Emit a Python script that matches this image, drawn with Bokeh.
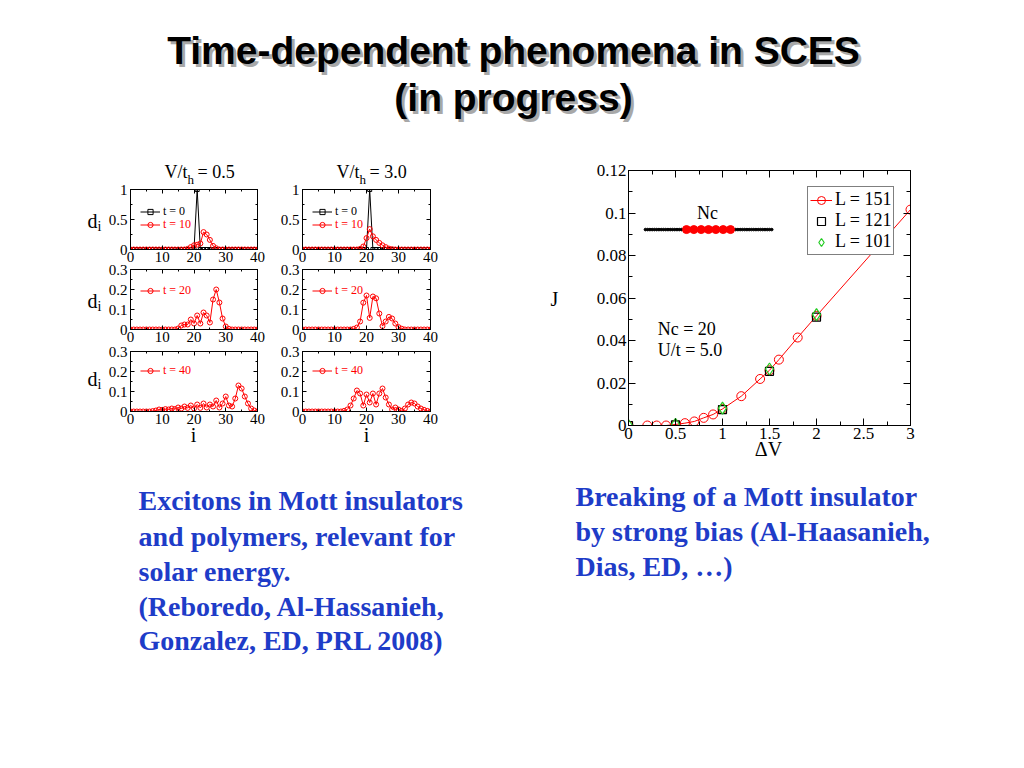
from bokeh.plotting import figure
from bokeh.models import (Range1d, LinearAxis, FixedTicker, Label, Legend, LegendItem,
                          ColumnDataSource, CustomJSTickFormatter)
from bokeh.layouts import row, column
from bokeh.embed import file_html
from bokeh.resources import INLINE
from bokeh.core.properties import value

SERIF = "Liberation Serif"
SANS = "Liberation Sans"
BLUE = "#1e3cc8"
RED = "#ff0000"
GREEN = "#22cc22"

# ---------------- data: exciton panels (site index i = 0..40) ----------------
site = list(range(41))
x_ticks = [0, 10, 20, 30, 40]
x_minor = [5, 15, 25, 35]
top_yticks = [0, 0.5, 1]
top_yminor = [0.25, 0.75]
low_yticks = [0, 0.1, 0.2, 0.3]
low_yminor = [0.05, 0.15, 0.25]

d_t0 = [0, 0, 0, 0, 0, 0, 0, 0, 0, 0,
        0, 0, 0, 0, 0, 0, 0, 0, 0, 0,
        0, 1, 0, 0, 0, 0, 0, 0, 0, 0,
        0, 0, 0, 0, 0, 0, 0, 0, 0, 0, 0]
v05_t10 = [0, 0, 0, 0, 0, 0, 0, 0, 0, 0,
           0, 0, 0, 0, 0, 0, 0, 0, 0.01, 0.04,
           0.07, 0.08, 0.10, 0.29, 0.25, 0.16, 0.06, 0.02, 0, 0,
           0, 0, 0, 0, 0, 0, 0, 0, 0, 0, 0]
v30_t10 = [0, 0, 0, 0, 0, 0, 0, 0, 0, 0,
           0, 0, 0, 0, 0, 0, 0, 0, 0.01, 0.05,
           0.19, 0.34, 0.22, 0.16, 0.11, 0.07, 0.04, 0.015, 0.005, 0,
           0, 0, 0, 0, 0, 0, 0, 0, 0, 0, 0]
v05_t20 = [0, 0, 0, 0, 0, 0, 0, 0, 0, 0,
           0, 0, 0, 0, 0, 0.005, 0.02, 0.025, 0.025, 0.05,
           0.03, 0.07, 0.03, 0.085, 0.07, 0.035, 0.15, 0.2, 0.135, 0.055,
           0.015, 0.003, 0, 0, 0, 0, 0, 0, 0, 0, 0]
v30_t20 = [0, 0, 0, 0, 0, 0, 0, 0, 0, 0,
           0, 0, 0, 0, 0, 0, 0.003, 0.01, 0.04, 0.134,
           0.17, 0.058, 0.165, 0.156, 0.08, 0.017, 0.04, 0.063, 0.055, 0.03,
           0.012, 0.004, 0, 0, 0, 0, 0, 0, 0, 0, 0]
v05_t40 = [0, 0, 0, 0, 0, 0, 0, 0.002, 0.005, 0.01,
           0.008, 0.012, 0.01, 0.015, 0.012, 0.02, 0.015, 0.025, 0.018, 0.03,
           0.015, 0.035, 0.018, 0.04, 0.02, 0.035, 0.025, 0.055, 0.02, 0.04,
           0.075, 0.03, 0.025, 0.065, 0.13, 0.115, 0.075, 0.04, 0.015, 0.005, 0]
v30_t40 = [0, 0, 0, 0, 0, 0, 0, 0, 0, 0,
           0, 0, 0, 0.003, 0.01, 0.03, 0.065, 0.105, 0.09, 0.03,
           0.085, 0.045, 0.09, 0.035, 0.09, 0.115, 0.07, 0.035, 0.01, 0.02,
           0.01, 0.003, 0.015, 0.035, 0.045, 0.04, 0.025, 0.015, 0.008, 0.003, 0]
panel_ratios = ["0.5", "3.0"]

# ---------------- data: current vs bias ----------------
dv_151 = [0, 0.2, 0.3, 0.4, 0.5, 0.6, 0.7, 0.8, 0.9, 1.0, 1.2, 1.4, 1.5, 1.6, 1.8, 2.0, 3.0]
j_151 = [0, 0, 0, 0, 0.0005, 0.0011, 0.0019, 0.0036, 0.0052, 0.0078, 0.0138, 0.0219,
         0.026, 0.031, 0.0414, 0.0516, 0.1016]
dv_small = [0, 0.5, 1.0, 1.5, 2.0]
j_121 = [0, 0.0003, 0.0075, 0.0255, 0.051]
j_101 = [0, 0.0006, 0.0082, 0.0266, 0.0522]
dv_ticks = [0, 0.5, 1, 1.5, 2, 2.5, 3]
dv_minor = [0.25, 0.75, 1.25, 1.75, 2.25, 2.75]
j_ticks = [0, 0.02, 0.04, 0.06, 0.08, 0.1, 0.12]
j_minor = [0.01, 0.03, 0.05, 0.07, 0.09, 0.11]
legend_labels = ["L = 151", "L = 121", "L = 101"]

# schematic chain of sites (Nc) drawn inside the J panel
chain_left = [0.18, 0.204, 0.228, 0.252, 0.276, 0.30, 0.324, 0.348, 0.372, 0.396,
              0.42, 0.444, 0.468, 0.492, 0.516, 0.54, 0.564, 0.588]
chain_mid = [0.617, 0.695, 0.773, 0.851, 0.929, 1.007, 1.085]
chain_right = [1.116, 1.14, 1.164, 1.188, 1.212, 1.236, 1.26, 1.284, 1.308, 1.332,
               1.356, 1.38, 1.404, 1.428, 1.452, 1.476, 1.5, 1.524]
chain_level = 0.0922

title_lines = ["Time-dependent phenomena in SCES", "(in progress)"]
left_text = ["Excitons in Mott insulators", "and polymers, relevant for", "solar energy.",
             "(Reboredo, Al-Hassanieh,", "Gonzalez, ED, PRL 2008)"]
right_text = ["Breaking of a Mott insulator", "by strong bias (Al-Haasanieh,", "Dias, ED, \u2026)"]

FMT = "return String(Math.round(tick*1000)/1000);"


def axis_style(ax, ticks, minor, show, size, tin, tmin, standoff):
    ax.ticker = FixedTicker(ticks=ticks, minor_ticks=minor)
    ax.formatter = CustomJSTickFormatter(code=FMT if show else "return '';")
    ax.axis_line_color = "black"
    ax.major_tick_in = tin
    ax.major_tick_out = 0
    ax.minor_tick_in = tmin
    ax.minor_tick_out = 0
    ax.major_tick_line_color = "black"
    ax.minor_tick_line_color = "black"
    ax.major_label_text_font = SERIF
    ax.major_label_text_font_size = size if show else "1px"
    ax.major_label_text_color = "black"
    ax.major_label_standoff = standoff


def lab(p, x, y, text, size, color="black", align="left"):
    p.add_layout(Label(x=x, y=y, text=text, text_font=SERIF, text_font_size=size,
                       text_color=color, text_align=align, text_baseline="middle"))


def small_panel(w, h, bl, br, bt, bb, ymax, yt, ym):
    p = figure(width=w, height=h, x_range=Range1d(0, 40), y_range=Range1d(0, ymax),
               output_backend="svg", toolbar_location=None,
               min_border_left=bl, min_border_right=br, min_border_top=bt, min_border_bottom=bb,
               background_fill_color=None, border_fill_color=None, outline_line_color="black")
    p.xgrid.visible = False
    p.ygrid.visible = False
    axis_style(p.xaxis[0], x_ticks, x_minor, True, "15px", 4, 2, 2)
    axis_style(p.yaxis[0], yt, ym, True, "15px", 4, 2, 3)
    ta = LinearAxis()
    axis_style(ta, x_ticks, x_minor, False, "15px", 4, 2, 0)
    p.add_layout(ta, "above")
    ra = LinearAxis()
    axis_style(ra, yt, ym, False, "15px", 4, 2, 0)
    p.add_layout(ra, "right")
    return p


def series(p, y, color, marker, size):
    src = ColumnDataSource(dict(i=site, d=y))
    l = p.line("i", "d", source=src, line_color=color, line_width=1)
    s = p.scatter("i", "d", source=src, marker=marker, size=size, line_color=color,
                  fill_color=None, line_width=1)
    return [l, s]


def small_legend(p, label, rends, color, loc):
    lg = Legend(items=[LegendItem(label=label, renderers=rends)], location=loc,
                border_line_color=None, background_fill_alpha=0, padding=0, spacing=0,
                margin=0, label_text_font=SERIF, label_text_font_size="12px",
                label_text_color=color, glyph_width=20, glyph_height=13, label_height=13,
                label_standoff=3)
    p.add_layout(lg)


# column A (V/t_h = 0.5) and column B (V/t_h = 3.0)
WA, BLA, BRA = 269, 122, 20
WB, BLB, BRB = 173, 25, 20
rows_geo = [(121, 39, 22), (96, 14, 22), (120, 14, 46)]

panels = []
for r, (h, bt, bb) in enumerate(rows_geo):
    ymax = 1 if r == 0 else 0.3
    yt = top_yticks if r == 0 else low_yticks
    ym = top_yminor if r == 0 else low_yminor
    pa = small_panel(WA, h, BLA, BRA, bt, bb, ymax, yt, ym)
    pb = small_panel(WB, h, BLB, BRB, bt, bb, ymax, yt, ym)
    panels.append((pa, pb))

tl, tr = panels[0]
for p, red in ((tl, v05_t10), (tr, v30_t10)):
    kb = series(p, d_t0, "black", "square", 4)
    kr = series(p, red, RED, "circle", 5)
    small_legend(p, "t = 0", kb, "black", (10, 30))
    small_legend(p, "t = 10", kr, RED, (10, 17))

ml, mr = panels[1]
for p, y in ((ml, v05_t20), (mr, v30_t20)):
    k = series(p, y, RED, "circle", 5)
    small_legend(p, "t = 20", k, RED, (10, 31))

bl, br = panels[2]
for p, y in ((bl, v05_t40), (br, v30_t40)):
    k = series(p, y, RED, "circle", 5)
    small_legend(p, "t = 40", k, RED, (10, 33))

r1 = row(tl, tr)
r2 = row(ml, mr)
r2.margin = (-16, 0, 0, 0)
r3 = row(bl, br)
r3.margin = (-14, 0, 0, 0)
left_col = column(r1, r2, r3)

# ---------------- J vs bias panel ----------------
big = figure(width=500, height=325, x_range=Range1d(0, 3), y_range=Range1d(0, 0.12),
             output_backend="svg", toolbar_location=None,
             min_border_left=178, min_border_right=40, min_border_top=20, min_border_bottom=50,
             background_fill_color=None, border_fill_color=None, outline_line_color="black")
big.xgrid.visible = False
big.ygrid.visible = False
axis_style(big.xaxis[0], dv_ticks, dv_minor, True, "17px", 7, 4, 2)
axis_style(big.yaxis[0], j_ticks, j_minor, True, "17px", 7, 4, 2)
ta = LinearAxis()
axis_style(ta, dv_ticks, dv_minor, False, "17px", 7, 4, 0)
big.add_layout(ta, "above")
ra = LinearAxis()
axis_style(ra, j_ticks, j_minor, False, "17px", 7, 4, 0)
big.add_layout(ra, "right")

s151 = ColumnDataSource(dict(x=dv_151, y=j_151))
s121 = ColumnDataSource(dict(x=dv_small, y=j_121))
s101 = ColumnDataSource(dict(x=dv_small, y=j_101))
l151 = big.line("x", "y", source=s151, line_color=RED, line_width=1)
c151 = big.scatter("x", "y", source=s151, marker="circle", size=9, line_color=RED,
                   fill_color=None, line_width=1)
q121 = big.scatter("x", "y", source=s121, marker="square", size=8, line_color="black",
                   fill_color=None, line_width=1.2)
d101 = big.scatter("x", "y", source=s101, marker="diamond", size=12, line_color=GREEN,
                   fill_color=None, line_width=1.2)

big.scatter(chain_left, [chain_level] * len(chain_left), marker="circle", size=2.6,
            fill_color="black", line_color="black")
big.scatter(chain_right, [chain_level] * len(chain_right), marker="circle", size=2.6,
            fill_color="black", line_color="black")
big.scatter(chain_mid, [chain_level] * len(chain_mid), marker="circle", size=8,
            fill_color=RED, line_color=RED)

lab(big, 0.84, 0.1002, "Nc", "18px", align="center")
lab(big, 0.31, 0.0456, "Nc = 20", "18px")
lab(big, 0.31, 0.0353, "U/t = 5.0", "18px")

leg = Legend(items=[LegendItem(label=legend_labels[0], renderers=[l151, c151]),
                    LegendItem(label=legend_labels[1], renderers=[q121]),
                    LegendItem(label=legend_labels[2], renderers=[d101])],
             location=(179, 170), border_line_color="black", border_line_width=1,
             background_fill_color="white", background_fill_alpha=1, padding=2, spacing=0,
             margin=0, label_text_font=SERIF, label_text_font_size="18px",
             label_text_color="black", glyph_width=22, glyph_height=20, label_height=20,
             label_standoff=3)
big.add_layout(leg)

mid = row(left_col, big)

# ---------------- page canvas (titles, captions, axis titles) ----------------
bg = figure(width=1024, height=768, x_range=Range1d(0, 1024), y_range=Range1d(768, 0),
            output_backend="svg", toolbar_location=None, min_border=0,
            x_axis_location=None, y_axis_location=None,
            background_fill_color=None, border_fill_color=None, outline_line_color=None)
bg.grid.visible = False


def txt(x, y, t, size, font=SERIF, style="normal", color="black", align="left"):
    bg.text(x=x, y=y, text=t, text_font=value(font), text_font_style=style,
            text_font_size=size, text_color=color, text_align=align, text_baseline="middle")


# slide title with shadow
txt([516, 516], [52.5, 99.5], title_lines, "39px", SANS, "bold", "#a8a8a8", "center")
txt([513, 513], [49.5, 96.5], title_lines, "39px", SANS, "bold", "black", "center")

# panel titles V/t_h = ...
for dx, ratio in zip([0, 172], panel_ratios):
    txt([164 + dx], [171], ["V/t"], "18px")
    txt([187 + dx], [179], ["h"], "13px")
    txt([197 + dx], [171], ["= " + ratio], "18px")

# d_i axis titles of the left column, i titles below the bottom row
txt([87, 87, 87], [220, 300, 378], ["d", "d", "d"], "20px")
txt([97, 97, 97], [226, 306, 384], ["i", "i", "i"], "14px")
txt([193, 366], [434, 434], ["i", "i"], "20px", align="center")

# axis titles of the J panel
txt([550], [298], ["J"], "20px")
txt([768], [448], ["\u0394V"], "20px", align="center")

# captions
txt([138] * 5, [500, 536, 571, 606, 640], left_text, "28px", SERIF, "bold", BLUE)
txt([575] * 3, [496, 531, 566], right_text, "28px", SERIF, "bold", BLUE)

mid.margin = (150 - 768, 0, 0, 8)
page = column(bg, mid)

open("out.html", "w").write(file_html(page, INLINE))
